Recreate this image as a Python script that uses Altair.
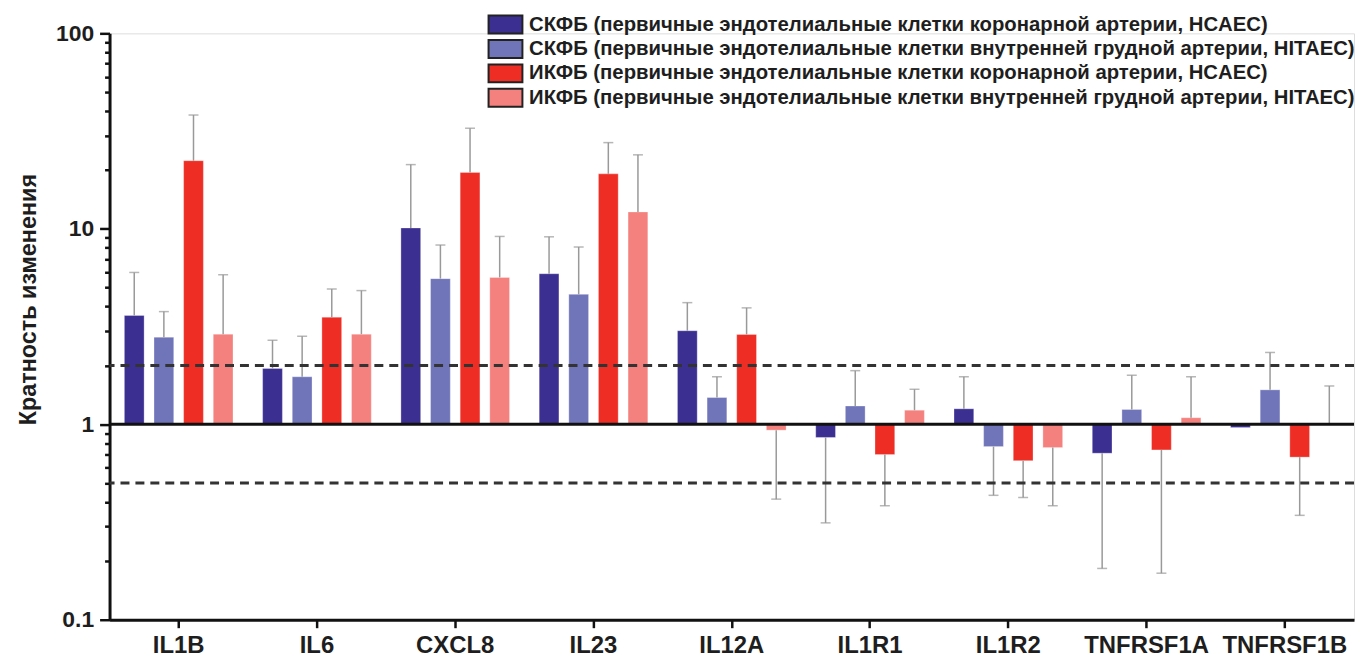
import altair as alt
import pandas as pd
import numpy as np

genes = ["IL1B", "IL6", "CXCL8", "IL23", "IL12A", "IL1R1", "IL1R2", "TNFRSF1A", "TNFRSF1B"]
series = [
    "СКФБ (первичные эндотелиальные клетки коронарной артерии, HCAEC)",
    "СКФБ (первичные эндотелиальные клетки внутренней грудной артерии, HITAEC)",
    "ИКФБ (первичные эндотелиальные клетки коронарной артерии, HCAEC)",
    "ИКФБ (первичные эндотелиальные клетки внутренней грудной артерии, HITAEC)",
]
colors = ["#3b2f91", "#7075b9", "#ee2d24", "#f4817d"]

skfb_hcaec = [3.6, 1.93, 10.1, 5.89, 3.01, 0.856, 1.20, 0.711, 0.962]
skfb_hcaec_err = [5.98, 2.69, 21.3, 9.1, 4.19, 0.313, 1.75, 0.183, None]
skfb_hitaec = [2.79, 1.75, 5.56, 4.62, 1.37, 1.24, 0.769, 1.19, 1.50]
skfb_hitaec_err = [3.77, 2.82, 8.26, 8.07, 1.75, 1.88, 0.433, 1.78, 2.33]
ikfb_hcaec = [22.3, 3.53, 19.4, 19.1, 2.88, 0.70, 0.651, 0.739, 0.679]
ikfb_hcaec_err = [38.2, 4.92, 32.7, 27.6, 3.94, 0.383, 0.422, 0.173, 0.342]
ikfb_hitaec = [2.89, 2.89, 5.64, 12.2, 0.933, 1.18, 0.760, 1.08, 1.0]
ikfb_hitaec_err = [5.82, 4.83, 9.14, 23.9, 0.414, 1.51, 0.383, 1.75, 1.57]

y_ticks = [0.1, 0.2, 0.3, 0.4, 0.5, 0.6, 0.7, 0.8, 0.9,
           1, 2, 3, 4, 5, 6, 7, 8, 9,
           10, 20, 30, 40, 50, 60, 70, 80, 90, 100]
threshold_lines = [2, 0.5]

vals = [skfb_hcaec, skfb_hitaec, ikfb_hcaec, ikfb_hitaec]
errs = [skfb_hcaec_err, skfb_hitaec_err, ikfb_hcaec_err, ikfb_hitaec_err]
rows = []
for s, v, e in zip(series, vals, errs):
    for g, vv, ee in zip(genes, v, e):
        rows.append({"gene": g, "series": s, "value": vv, "err": ee, "base": 1.0})
df = pd.DataFrame(rows)
df_err = df.dropna(subset=["err"])

FONT = "Liberation Sans"
TXT = "#1e1e1e"
major_test = "abs(log(datum.value)/LN10 - round(log(datum.value)/LN10)) < 0.001"

yscale = alt.Scale(type="log", domain=[0.1, 100])
x_enc = alt.X("gene:N", sort=genes,
              scale=alt.Scale(paddingInner=0, paddingOuter=0),
              axis=alt.Axis(title=None, labelAngle=0, labelFontSize=24, labelFont=FONT,
                            labelFontWeight="bold", labelColor=TXT, tickSize=8, tickWidth=2.5,
                            tickColor="#111", domainWidth=3, domainColor="#111",
                            labelPadding=6, labelOverlap=False, labelLimit=0))
xoff = alt.XOffset("series:N", sort=series, scale=alt.Scale(paddingInner=1/3, paddingOuter=0.5))

bars = alt.Chart(df).mark_bar(stroke="white", strokeWidth=0.6, strokeOpacity=0.5).encode(
    x=x_enc,
    xOffset=xoff,
    y=alt.Y("value:Q", scale=yscale,
            axis=alt.Axis(values=y_ticks, title="Кратность изменения",
                          labelExpr=f"({major_test}) ? datum.label : ''",
                          format="~g", labelFontSize=23, labelFont=FONT, labelFontWeight="bold",
                          labelColor=TXT,
                          tickSize={"condition": {"test": major_test, "value": 10}, "value": 5},
                          tickWidth=2.5, tickColor="#111", domainWidth=3, domainColor="#111",
                          grid=False, labelPadding=6, titleFontSize=23.5, titleFont=FONT,
                          titleFontWeight="bold", titleColor=TXT, titlePadding=15,
                          titleY=267)),
    y2="base:Q",
    color=alt.Color("series:N", sort=series,
                    scale=alt.Scale(domain=series, range=colors),
                    legend=alt.Legend(orient="none", legendX=379, legendY=-19, title=None,
                                      symbolType="M-1,-1.06L3,-1.06L3,1.06L-1,1.06Z",
                                      symbolSize=289,
                                      symbolStrokeColor="#222", symbolStrokeWidth=2,
                                      symbolOpacity=1, labelFontSize=20.4, labelFont=FONT,
                                      labelFontWeight="bold", labelColor=TXT,
                                      rowPadding=-2.5, labelLimit=0, labelOffset=22)),
)

err_rule = alt.Chart(df_err).mark_rule(color="#999999", strokeWidth=1.5).encode(
    x=alt.X("gene:N", sort=genes), xOffset=xoff,
    y=alt.Y("value:Q", scale=yscale), y2="err:Q")
err_cap = alt.Chart(df_err).mark_tick(color="#999999", thickness=1.5, size=10).encode(
    x=alt.X("gene:N", sort=genes), xOffset=xoff,
    y=alt.Y("err:Q", scale=yscale))

dashed = alt.Chart(pd.DataFrame({"y": threshold_lines})).mark_rule(
    color="#333333", strokeWidth=3, strokeDash=[9, 6]).encode(y=alt.Y("y:Q", scale=yscale))
solid = alt.Chart(pd.DataFrame({"y": [1]})).mark_rule(
    color="#111111", strokeWidth=3).encode(y=alt.Y("y:Q", scale=yscale))

chart = alt.layer(bars, err_rule, err_cap, dashed, solid).properties(
    width=1250, height=589, padding={"left": 8, "top": 5, "right": 0, "bottom": 0}
).configure_view(stroke=None).configure(background="white")

chart.save("out.html", embed_options={"renderer": "svg", "actions": False})
